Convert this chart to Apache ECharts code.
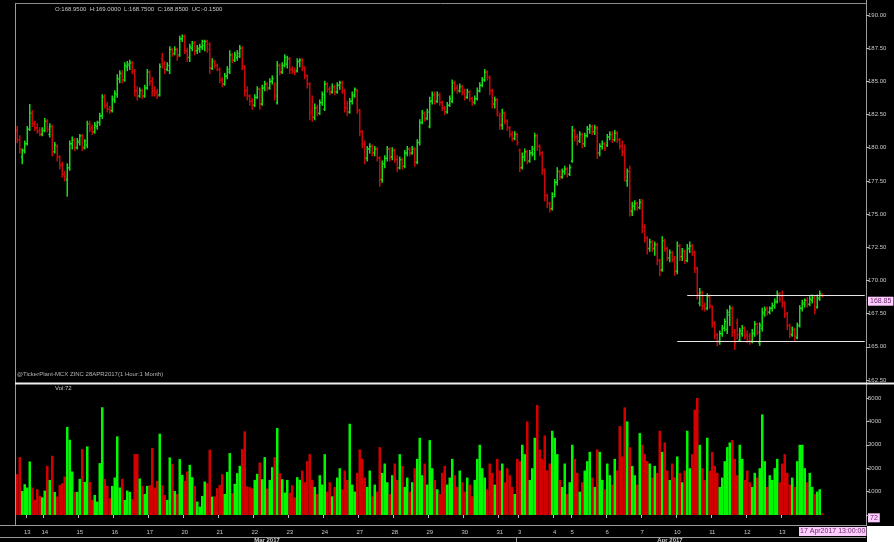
<!DOCTYPE html>
<html><head><meta charset="utf-8">
<script src="https://cdn.jsdelivr.net/npm/echarts@6/dist/echarts.min.js"></script>
<style>html,body{margin:0;padding:0;background:#000;}#c{width:894px;height:542px;}</style>
</head><body><div id="c"></div>
<script>
// ---- categories (trading days, bars per day, first hour of each day) ----
const dayLabels = ['10','13','14','15','16','17','20','21','22','23','24','27','28','29','30','31','3','4','5','6','7','10','11','12','13','17'];
const dayMonths = ['Mar','Mar','Mar','Mar','Mar','Mar','Mar','Mar','Mar','Mar','Mar','Mar','Mar','Mar','Mar','Mar','Apr','Apr','Apr','Apr','Apr','Apr','Apr','Apr','Apr','Apr'];
const barsPerDay = [4,7,14,14,14,14,14,14,14,14,14,14,14,14,14,8,14,7,14,14,14,14,14,14,14,3];
const firstHour  = [20,17,10,10,10,10,10,10,10,10,10,10,10,10,10,10,10,17,10,10,10,10,10,10,10,10];
const emptySlots = 17;

// ---- tick labels ----
const priceTicks = [162.5,165,167.5,170,172.5,175,177.5,180,182.5,185,187.5,190];
const volumeTicks = [1000,2000,3000,4000,5000];
const monthLabels = ['Mar 2017','Apr 2017'];

// ---- series values ----
const opens = [
181.3,180.6,179.3,179.8,180.3,181.4,182.6,181.8,181.5,181.3,
181.0,181.3,182.0,181.0,181.6,179.7,180.1,179.3,178.7,178.0,
177.6,178.5,180.3,180.6,180.0,180.4,180.9,180.0,180.2,181.8,
181.5,181.2,181.6,181.9,182.4,183.8,183.2,182.9,182.8,183.6,
184.0,185.2,185.6,185.1,186.1,186.2,186.4,185.8,184.3,183.9,
184.3,183.9,184.5,185.7,185.0,184.3,184.2,184.0,186.7,186.3,
185.9,185.8,187.4,187.1,187.4,187.0,188.2,188.4,187.3,186.8,
187.5,187.9,187.3,187.4,187.6,187.7,188.0,187.8,186.0,186.5,
186.2,185.9,185.1,184.8,185.4,185.7,187.0,186.6,186.8,186.9,
187.5,186.1,184.3,183.9,183.5,183.2,183.8,184.4,183.3,184.5,
184.8,184.5,185.0,184.7,183.4,186.2,185.7,186.2,186.3,186.7,
185.9,185.8,185.8,186.5,
186.6,186.0,185.4,184.8,182.8,182.3,183.0,182.6,183.4,182.9,
184.8,184.4,184.2,184.6,184.2,184.7,184.9,184.3,183.0,182.7,
183.5,183.9,184.3,182.8,181.2,180.3,179.2,179.9,180.1,179.6,
179.9,179.2,177.6,178.8,179.2,179.9,179.3,179.8,179.1,178.5,
179.1,178.6,179.6,179.9,179.6,179.9,178.9,180.4,181.9,182.6,
182.2,181.6,183.5,184.0,183.5,184.0,183.4,183.0,182.7,183.2,
183.5,184.9,184.5,184.3,184.6,184.2,183.8,184.2,183.7,183.4,
183.7,184.3,184.7,185.1,185.7,185.3,184.3,183.3,183.6,182.4,
181.7,182.6,182.0,181.5,181.0,180.7,181.0,179.8,178.5,179.3,
179.7,179.0,179.6,179.5,180.9,180.1,179.6,178.3,176.4,175.8,
175.4,176.5,177.4,178.2,177.8,178.2,178.4,178.0,179.0,181.3,
180.8,180.5,181.0,180.3,180.9,181.4,181.6,181.2,181.5,179.6,
180.1,180.3,180.2,180.8,181.0,180.6,181.1,180.6,180.1,179.7,
177.5,178.2,175.2,175.6,175.8,175.5,175.8,174.0,173.2,172.4,
172.9,172.4,172.7,171.5,170.8,173.0,172.4,171.7,172.1,171.6,
170.7,172.6,171.8,172.2,171.5,172.4,172.6,172.1,170.9,168.3,
169.1,168.1,167.9,168.8,168.0,166.8,165.9,165.4,166.0,166.4,
166.3,167.4,167.9,166.1,166.8,165.5,166.0,166.4,165.9,165.8,
165.4,166.0,166.7,165.3,166.4,167.5,167.9,167.6,167.9,168.1,
168.4,169.0,168.8,168.3,167.5,166.6,165.9,166.3,165.7,166.6,
167.9,168.2,168.5,168.2,168.5,168.7,168.0,168.6,168.95];
const highs = [
181.6,180.9,179.9,180.5,181.6,183.25,182.8,182.0,181.8,181.5,
181.5,182.2,182.1,181.8,181.7,180.4,180.2,179.4,178.9,178.2,
178.8,180.5,180.8,180.7,180.7,181.0,181.0,180.6,182.0,182.0,
181.7,181.9,182.0,182.6,184.0,184.0,183.4,183.1,183.9,184.3,
185.5,185.8,185.8,186.4,186.5,186.6,186.5,185.9,184.6,184.5,
184.4,184.7,185.9,185.8,185.3,184.6,184.4,186.3,187.1,186.5,
186.4,187.6,187.5,187.6,187.5,188.4,188.5,188.5,187.5,187.8,
188.0,188.0,187.7,187.8,188.1,188.1,188.1,187.9,186.7,186.6,
186.3,186.0,185.3,185.6,186.1,187.3,187.1,187.2,187.3,187.7,
187.6,186.2,184.6,184.0,183.7,184.0,184.6,184.5,184.7,185.0,
184.9,185.2,185.4,184.9,186.5,186.3,186.4,187.0,186.9,186.8,
186.1,186.0,186.7,186.7,
186.7,186.1,185.5,184.9,183.9,183.3,183.2,183.6,184.2,185.0,
184.9,184.6,184.8,184.7,184.9,185.0,185.0,184.4,183.5,183.7,
184.2,184.5,184.4,182.9,181.3,180.5,180.1,180.3,180.2,180.1,
180.0,179.3,179.0,179.4,180.1,180.0,180.0,179.9,179.4,179.3,
179.2,179.8,180.1,180.0,180.1,180.0,180.6,182.1,182.8,182.7,
182.9,183.8,184.2,184.2,184.2,184.1,183.5,183.1,183.4,183.9,
185.1,185.0,184.7,184.8,184.7,184.4,184.4,184.3,183.8,183.9,
184.5,184.9,185.3,185.9,185.8,185.4,184.4,183.8,183.7,182.6,
182.9,182.7,182.1,181.6,181.2,181.2,181.1,179.9,179.6,179.9,
179.8,179.8,180.1,181.1,181.0,180.2,179.7,178.4,176.5,175.9,
176.6,177.6,178.5,178.3,178.4,178.6,178.5,178.7,181.6,181.4,
181.0,181.2,181.1,181.1,181.6,181.75,181.7,181.7,181.6,180.3,
180.5,180.4,181.0,181.2,181.2,181.3,181.2,180.7,180.5,180.2,
178.4,178.6,175.9,176.0,175.9,176.1,176.1,174.2,173.3,173.1,
173.0,172.9,172.8,171.6,173.3,173.1,172.5,172.3,172.2,171.8,
172.9,172.7,172.4,172.3,172.7,172.9,172.7,172.2,171.0,169.4,
169.2,168.3,169.0,168.9,168.1,166.9,166.0,166.2,166.6,167.1,
167.8,168.1,168.0,166.3,167.1,166.4,166.6,166.5,166.2,166.0,
166.3,166.9,166.8,166.8,167.9,168.0,168.0,168.0,168.3,168.6,
169.2,169.1,169.2,168.4,167.6,166.7,166.5,166.4,166.8,168.1,
168.5,168.6,168.7,168.8,168.9,168.8,168.9,169.2,169.0];
const lows = [
180.4,179.6,178.8,179.6,180.2,181.3,181.6,181.3,181.1,180.9,
180.9,181.2,181.2,180.8,179.4,179.6,179.0,178.4,177.8,177.5,
176.35,178.3,179.9,179.8,179.9,180.2,179.8,179.9,180.0,181.2,
181.0,181.1,181.4,181.7,182.2,183.0,182.7,182.6,182.7,183.4,
183.8,184.9,184.9,185.0,185.8,185.9,185.6,183.9,183.6,183.8,
183.7,183.8,184.4,184.7,183.9,183.9,183.7,183.9,186.0,185.6,
185.8,185.6,186.9,187.0,186.6,186.9,188.0,187.1,186.5,186.5,
187.3,187.0,187.1,187.2,187.4,187.3,187.2,185.6,185.9,186.0,
185.8,184.9,184.6,184.7,185.2,185.6,186.4,186.5,186.6,186.8,
185.9,183.9,183.6,183.2,182.9,183.1,183.7,182.9,183.2,184.3,
184.3,184.4,184.8,183.6,183.3,185.5,185.6,186.1,186.0,185.6,
185.6,185.5,185.7,186.1,
185.8,185.2,184.5,182.1,182.0,182.1,182.4,182.5,183.2,182.8,
184.2,184.0,184.1,184.0,184.1,184.4,184.1,182.7,182.4,182.6,
183.3,183.8,182.6,180.9,180.0,178.8,179.0,179.6,179.4,179.4,
179.0,177.1,177.4,178.5,179.0,179.0,179.1,178.9,178.2,178.4,
178.4,178.5,179.4,179.4,179.5,178.6,178.8,180.2,181.8,182.0,
182.1,181.5,183.3,183.3,183.4,183.2,182.8,182.5,182.6,183.1,
183.4,184.3,184.1,184.2,184.0,183.6,183.7,183.5,183.2,183.3,
183.6,184.2,184.6,185.0,185.1,184.0,183.0,183.0,182.4,181.4,
181.4,181.8,181.3,180.8,180.5,180.6,180.2,178.2,178.4,179.0,
178.8,178.9,179.4,179.1,179.8,179.4,178.0,176.0,175.5,175.15,
175.3,176.3,177.2,177.6,177.7,178.0,177.8,177.9,178.9,180.5,
180.2,180.4,180.0,180.1,180.8,181.1,181.0,181.0,179.2,179.4,
179.9,179.8,180.1,180.6,180.4,180.5,180.4,179.9,179.4,177.5,
177.1,174.85,174.9,175.3,175.3,175.4,173.6,172.9,172.0,172.2,
172.2,171.9,171.2,170.35,170.7,172.2,171.5,171.4,171.4,170.4,
170.5,171.5,171.5,171.3,171.4,172.1,171.9,170.6,168.6,168.1,
167.8,167.7,167.8,167.9,166.5,165.6,165.1,165.2,165.8,166.2,
166.0,166.6,165.8,164.8,165.6,165.4,165.8,165.6,165.3,165.2,
165.3,165.8,165.9,165.1,166.2,167.3,167.4,167.5,167.7,167.9,
168.3,168.4,168.0,167.2,166.3,165.7,165.8,165.5,165.6,166.5,
167.7,168.0,168.0,168.1,168.3,167.5,167.9,168.5,168.75];
const closes = [
180.6,179.9,179.8,180.3,181.4,182.6,181.8,181.5,181.2,181.0,
181.3,182.0,181.4,181.6,179.7,180.2,179.3,178.7,178.0,177.8,
178.5,180.3,180.6,180.0,180.5,180.9,180.1,180.5,181.8,181.4,
181.2,181.7,181.9,182.4,183.8,183.2,182.9,182.8,183.7,184.1,
185.2,185.6,185.1,186.2,186.3,186.4,185.8,184.3,183.9,184.3,
183.9,184.5,185.7,185.0,184.2,184.1,183.9,186.1,186.3,185.9,
186.2,187.4,187.1,187.4,186.9,188.2,188.4,187.3,186.8,187.6,
187.9,187.3,187.5,187.6,188.0,188.0,187.4,186.0,186.5,186.2,
185.9,185.1,184.8,185.4,185.9,187.0,186.6,187.0,187.1,187.5,
186.2,184.3,183.9,183.5,183.2,183.8,184.4,183.3,184.5,184.8,
184.5,185.0,185.2,183.9,186.2,185.7,186.2,186.8,186.7,185.9,
185.8,185.7,186.5,186.6,
186.0,185.4,184.8,182.6,182.3,183.0,182.6,183.4,184.0,184.8,
184.4,184.2,184.6,184.2,184.7,184.9,184.3,183.0,182.7,183.5,
184.0,184.4,182.8,181.2,180.3,179.2,179.9,180.1,179.6,179.9,
179.2,177.6,178.8,179.2,179.9,179.3,179.8,179.1,178.5,179.1,
178.6,179.6,179.9,179.6,179.9,178.9,180.4,181.9,182.6,182.2,
182.7,183.5,184.0,183.5,184.0,183.4,183.0,182.7,183.2,183.7,
184.9,184.5,184.3,184.6,184.2,183.8,184.2,183.7,183.4,183.7,
184.3,184.7,185.1,185.7,185.3,184.3,183.3,183.6,182.7,181.7,
182.6,182.0,181.5,181.0,180.7,181.0,180.4,178.5,179.3,179.7,
179.0,179.6,179.9,180.9,180.1,179.6,178.3,176.4,175.8,175.4,
176.3,177.4,178.2,177.8,178.2,178.4,178.0,178.5,181.3,180.8,
180.5,181.0,180.3,180.9,181.4,181.6,181.2,181.5,179.6,180.1,
180.3,180.0,180.8,181.0,180.6,181.1,180.6,180.1,179.7,177.8,
178.2,175.3,175.6,175.8,175.5,175.9,174.0,173.2,172.4,172.9,
172.4,172.7,171.5,170.8,173.0,172.4,171.7,172.1,171.6,170.7,
172.6,171.8,172.2,171.5,172.4,172.6,172.1,170.9,169.0,169.1,
168.1,167.9,168.8,168.1,166.8,165.9,165.4,166.0,166.4,166.9,
167.6,167.9,166.1,165.3,165.9,166.2,166.4,165.8,165.5,165.4,
166.0,166.7,166.1,166.6,167.6,167.8,167.6,167.9,168.1,168.4,
169.0,168.6,168.3,167.5,166.6,166.0,166.3,165.8,166.6,167.9,
168.3,168.5,168.2,168.6,168.7,167.8,168.7,169.0,168.85];
const volumes = [
1745,2474,1030,1316,1173,2288,1173,644,1100,815,
758,1044,2102,1500,2531,987,787,1287,1358,1645,
3760,3218,1860,987,987,1545,2817,1415,2932,1415,
644,858,572,2217,4605,1545,1244,715,1244,1602,
3360,1173,1545,644,1044,987,686,2603,2603,1560,
1244,900,1244,1273,2860,1173,1460,3475,1273,858,
644,2460,2188,1030,900,2388,1716,1460,1860,2145,
1616,1244,572,358,815,1430,1358,2789,787,787,
1144,1287,1745,900,1845,2646,930,1330,1788,2102,
2817,3575,1215,1187,1130,1500,1760,2245,1530,2474,
1130,1500,2045,2474,3718,1788,1530,958,1500,958,
1273,758,1616,1500,
1900,1400,2300,2600,1500,1200,900,1700,1300,2600,
1000,1400,800,1200,1600,2000,1100,1900,1500,3900,
1300,1000,1800,2800,2400,1600,1200,1900,800,1300,
1000,2900,1800,2200,1400,900,1700,2200,1500,2600,
2100,1200,1600,1000,1400,2000,2400,3300,1700,2200,
1300,3200,2000,1500,1100,900,1800,2100,1300,1600,
2400,1700,1200,1900,1400,1000,1600,1300,800,1500,
2400,3000,2000,1600,1100,2200,1800,1300,2400,1900,
2200,1400,2000,1700,1200,900,2400,2300,3000,2600,
4000,1500,2000,3300,4700,2800,2400,3400,1900,2200,
3600,3300,2600,1500,1200,2200,900,1400,3000,2400,
1800,1000,1400,1900,2300,2700,1600,1200,2800,2700,
1500,1100,2200,1700,1300,2400,1900,3800,2500,4600,
4000,2900,2100,1700,1300,3500,3000,2600,2300,2200,
1600,2100,1800,3600,2700,3100,1900,1500,2200,1600,
2500,1800,1400,1900,3600,2000,2600,4500,5000,3000,
2000,1500,3300,1900,2700,2100,1800,1200,1600,2300,
2900,3100,3200,2400,1700,3000,2400,1500,1900,1400,
1200,1800,1600,2000,4300,2300,1200,1700,1500,2000,
2400,1400,2200,2600,1800,1300,1600,1200,2300,3000,
3000,2000,1400,1800,1200,900,1000,1100,72];
const resistanceLevel = 168.85, supportLevel = 165.45;

// ---- build categories ----
const categories = [];
const dayStart = new Set();
dayLabels.forEach((d, k) => {
  dayStart.add(categories.length);
  for (let j = 0; j < barsPerDay[k]; j++) {
    categories.push(d + ' ' + dayMonths[k] + ' ' + (firstHour[k] + j) + ':00');
  }
});
const nBars = opens.length;
for (let k = 0; k < emptySlots; k++) categories.push('pad' + k);
const lastCat = categories.length - 1;

const UP = '#18dc18', DOWN = '#c80808', VUP = '#00f800', VDOWN = '#d40000';
const FONT = 'Liberation Sans, Arial, sans-serif';

const ohlc = opens.map((o, i) => [i, o, highs[i], lows[i], closes[i]]);
const volData = volumes.map((v, i) => ({ value: v, itemStyle: { color: closes[i] >= opens[i] ? VUP : VDOWN } }));

function renderOHLC(params, api) {
  const i = api.value(0), o = api.value(1), h = api.value(2), l = api.value(3), c = api.value(4);
  const pH = api.coord([i, h]), pL = api.coord([i, l]), pO = api.coord([i, o]), pC = api.coord([i, c]);
  const x = pH[0];
  const col = c >= o ? UP : DOWN;
  const st = { stroke: col, lineWidth: 1.5 };
  return { type: 'group', children: [
    { type: 'line', shape: { x1: x, y1: pH[1] - 0.5, x2: x, y2: pL[1] + 0.5 }, style: st },
    { type: 'line', shape: { x1: x - 1.4, y1: pO[1], x2: x, y2: pO[1] }, style: st },
    { type: 'line', shape: { x1: x, y1: pC[1], x2: x + 1.4, y2: pC[1] }, style: st }
  ]};
}

const chart = echarts.init(document.getElementById('c'));
const axisTxt = { color: '#c8c8c8', fontSize: 6, fontFamily: FONT };

chart.setOption({
  animation: false,
  backgroundColor: '#000',
  grid: [
    { left: 16, right: 28, top: 15, height: 365 },
    { left: 16, right: 28, top: 398, height: 117 }
  ],
  xAxis: [
    { type: 'category', gridIndex: 0, data: categories, show: false, boundaryGap: true },
    { type: 'category', gridIndex: 1, data: categories, boundaryGap: true, offset: 10,
      axisLine: { show: false },
      axisTick: { show: true, length: 3, lineStyle: { color: '#bbb' },
        interval: (i) => dayStart.has(i) && i > 0 && i < nBars - 3 },
      axisLabel: Object.assign({}, axisTxt, { margin: 4,
        interval: (i) => dayStart.has(i) && i > 0 && i < nBars - 3,
        formatter: (v) => v.split(' ')[0] }),
      splitLine: { show: false } }
  ],
  yAxis: [
    { type: 'value', gridIndex: 0, position: 'right', min: priceTicks[0], max: priceTicks[priceTicks.length - 1], interval: 2.5,
      axisLine: { show: false }, axisTick: { show: true, length: 3, lineStyle: { color: '#bbb' } },
      splitLine: { show: false },
      axisLabel: Object.assign({}, axisTxt, { margin: 2, formatter: (v) => priceTicks.includes(v) ? v.toFixed(2) : '' }) },
    { type: 'value', gridIndex: 1, position: 'right', min: 0, max: volumeTicks[volumeTicks.length - 1], interval: 1000,
      axisLine: { show: false }, axisTick: { show: true, length: 3, lineStyle: { color: '#bbb' } },
      splitLine: { show: false },
      axisLabel: Object.assign({}, axisTxt, { margin: 2, formatter: (v) => volumeTicks.includes(v) ? String(v) : '' }) }
  ],
  series: [
    { type: 'custom', name: 'price', xAxisIndex: 0, yAxisIndex: 0, renderItem: renderOHLC,
      data: ohlc, encode: { x: 0, y: [1, 2, 3, 4] }, clip: true, silent: true },
    { type: 'line', name: 'levels', xAxisIndex: 0, yAxisIndex: 0, data: closes, showSymbol: false,
      lineStyle: { opacity: 0 }, silent: true,
      markLine: { silent: true, symbol: 'none', label: { show: false },
        lineStyle: { color: '#e6e6e6', width: 1, type: 'solid' },
        data: [
          [{ xAxis: 268, yAxis: resistanceLevel }, { xAxis: lastCat, yAxis: resistanceLevel }],
          [{ xAxis: 264, yAxis: supportLevel }, { xAxis: lastCat, yAxis: supportLevel }]
        ] } },
    { type: 'bar', name: 'vol', xAxisIndex: 1, yAxisIndex: 1, data: volData, barCategoryGap: '0%', silent: true }
  ]
});

// ---- frame, texts and value tags ----
const yLast = chart.convertToPixel({ yAxisIndex: 0 }, closes[nBars - 1]);
const yVol = chart.convertToPixel({ yAxisIndex: 1 }, volumes[nBars - 1]);
const txt = (x, y, s, extra) => ({ type: 'text', x: x, y: y, silent: true,
  style: Object.assign({ text: s, fill: '#c8c8c8', font: '6px ' + FONT, textVerticalAlign: 'middle' }, extra || {}) });
const ln = (x1, y1, x2, y2, color, w) => ({ type: 'line', silent: true, shape: { x1, y1, x2, y2 }, style: { stroke: color, lineWidth: w || 1 } });

chart.setOption({ graphic: [
  ln(15, 3.5, 866, 3.5, '#8c8c8c'),
  ln(15.5, 3, 15.5, 525, '#9a9a9a'),
  ln(866.5, 0, 866.5, 526, '#9a9a9a'),
  ln(15, 383.5, 894, 383.5, '#f0f0f0', 2),
  ln(0, 525.5, 866, 525.5, '#9a9a9a'),
  ln(0, 537.5, 866, 537.5, '#9a9a9a'),
  ln(516.5, 537, 516.5, 542, '#9a9a9a'),
  { type: 'rect', silent: true, shape: { x: 867, y: 526, width: 27, height: 16 }, style: { fill: '#fff' } },
  txt(55, 9, 'O:168.9500  H:169.0000  L:168.7500  C:168.8500  UC:-0.1500'),
  txt(17, 374, '@TickerPlant-MCX ZINC 28APR2017(1 Hour:1 Month)', { fill: '#b4b4b4' }),
  txt(55, 388, 'Vol:72'),
  txt(267, 540.5, monthLabels[0], { textAlign: 'center', font: 'bold 6px ' + FONT }),
  txt(670, 540.5, monthLabels[1], { textAlign: 'center', font: 'bold 6px ' + FONT }),
  txt(868, yLast + 1, closes[nBars - 1].toFixed(2), { textVerticalAlign: 'top', fill: '#6a2a6a', font: '7px ' + FONT,
      backgroundColor: '#ffcdff', padding: [1, 2, 1, 2] }),
  txt(868, yVol, String(volumes[nBars - 1]), { textVerticalAlign: 'top', fill: '#6a2a6a', font: '7px ' + FONT,
      backgroundColor: '#ffcdff', padding: [1, 2, 1, 2] }),
  txt(799, 531.5, '17 Apr2017 13:00:00', { fill: '#6a2a6a', font: '7px ' + FONT, backgroundColor: '#ffcdff', padding: [1, 1, 1, 1] })
]});
</script>
</body></html>
